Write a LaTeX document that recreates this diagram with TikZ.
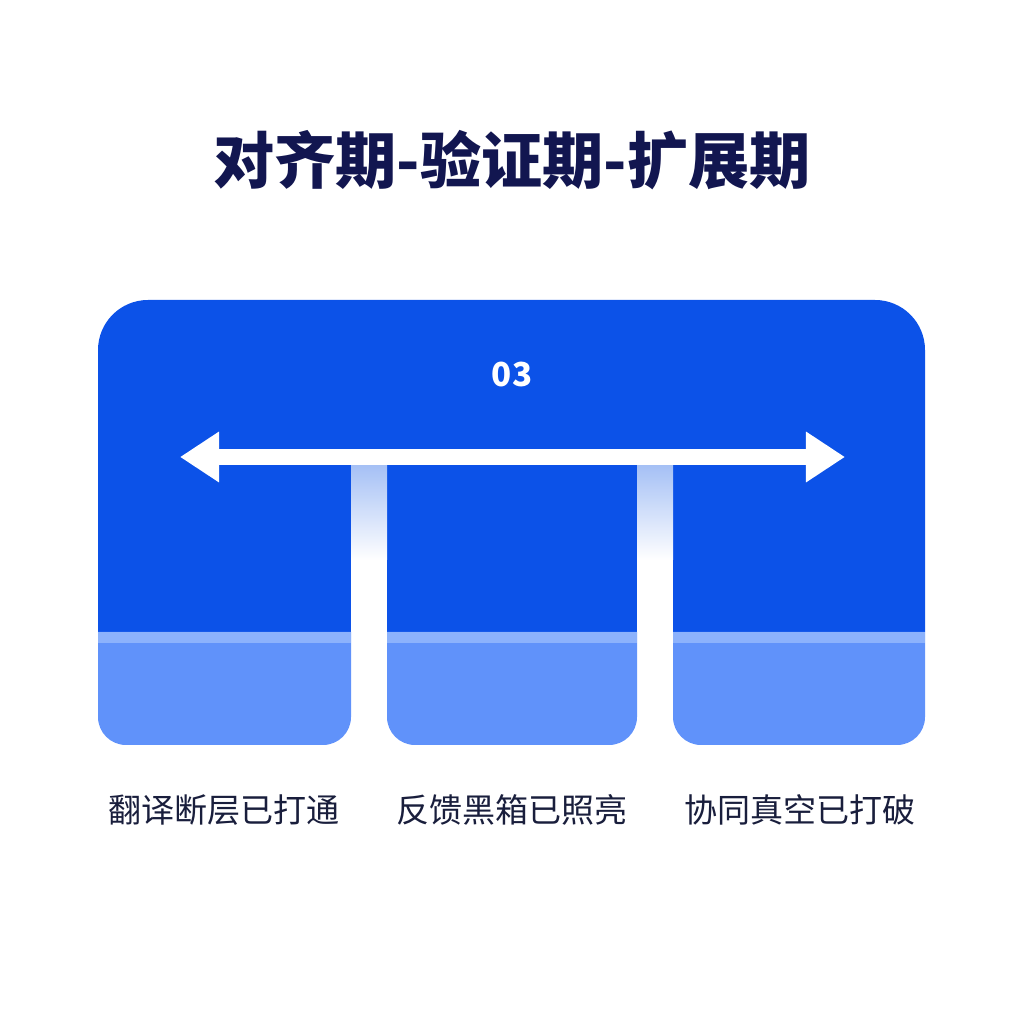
\documentclass[tikz,border=0pt]{standalone}
\usepackage{fontspec}
\newfontfamily\cjk{Noto Sans CJK SC}
\usetikzlibrary{arrows.meta}
\definecolor{bodyblue}{RGB}{12,82,232}
\definecolor{lowblue}{RGB}{96,146,250}
\definecolor{bandblue}{RGB}{140,178,252}
\definecolor{slotblue}{RGB}{165,192,245}
\definecolor{titlenavy}{RGB}{18,22,80}
\definecolor{labelnavy}{RGB}{25,30,60}
\tikzstyle{title} = [text=titlenavy, font=\cjk\bfseries\fontsize{17.4pt}{20pt}\selectfont]
\tikzstyle{lbl} = [text=labelnavy, font=\cjk\fontsize{9.4pt}{11pt}\selectfont]
\tikzstyle{num} = [text=white, font=\cjk\bfseries\fontsize{9.4pt}{11pt}\selectfont]
\tikzstyle{line} = [draw=white, line width=1.6mm, {Triangle[length=3.9mm,width=4.8mm]}-{Triangle[length=3.9mm,width=4.8mm]}]

\begin{document}
\begin{tikzpicture}[x=0.01cm, y=0.01cm, node distance=2.88cm]
		\useasboundingbox (0,0) rectangle (1024,1024);
		
		% upper body
		\fill [bodyblue] (98,392) -- (98,674) arc [start angle=180, end angle=90, radius=50]
			-- (875,724) arc [start angle=90, end angle=0, radius=50] -- (925,392) -- cycle;
		
		% slots
		\foreach \xa/\xb in {351/387, 637/673} {
			\fill [white] (\xa,279) rectangle (\xb,559);
			\shade [top color=slotblue, bottom color=white] (\xa,464) rectangle (\xb,559);
		}
		
		% lower columns
		\foreach \xa/\xb in {98/351, 387/637, 673/925} {
			\fill [lowblue] (\xa,392) -- (\xa,307) arc [start angle=180, end angle=270, radius=28]
				-- (\xb-28,279) arc [start angle=270, end angle=360, radius=28] -- (\xb,392) -- cycle;
			\fill [bandblue] (\xa,381) rectangle (\xb,392);
		}
		
		\coordinate (arrL) at (180,567);
		\coordinate (arrR) at (845,567);
		\path [line] (arrL) -- (arrR);
		
		\node [num] (step) at (512,649) {03};
		\node [title] (head) at (512,864) {对齐期-验证期-扩展期};
		
		\node [lbl] (fb) at (512,214) {反馈黑箱已照亮};
		\node [lbl, left of=fb] (tr) {翻译断层已打通};
		\node [lbl, right of=fb] (co) {协同真空已打破};
	\end{tikzpicture}
\end{document}
